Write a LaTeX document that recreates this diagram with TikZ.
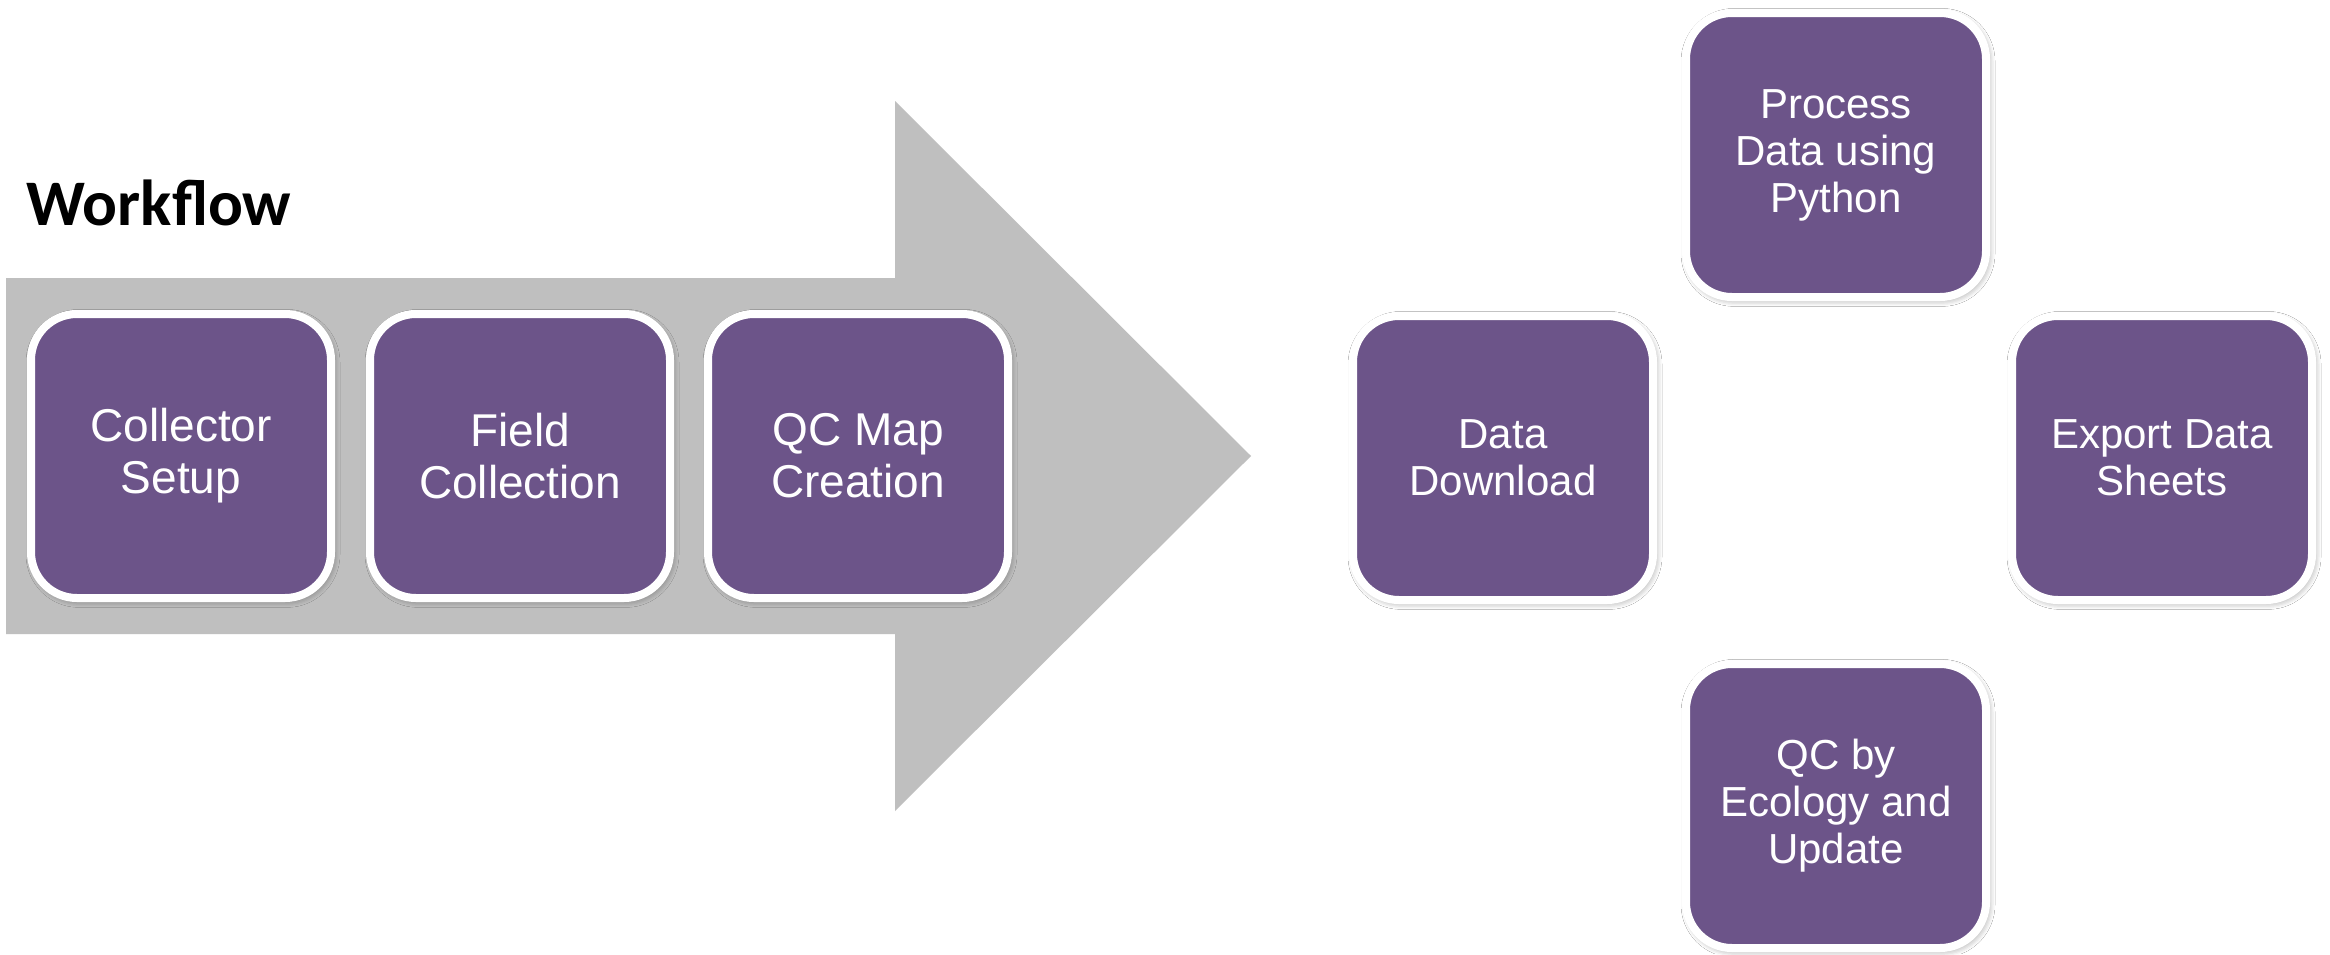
\documentclass[tikz,border=0pt]{standalone}
\usepackage{fontspec}
\setmainfont{Liberation Sans}
\newfontfamily\titlefont{Carlito}
\usetikzlibrary{shadows.blur}
\definecolor{boxpurple}{HTML}{6C5489}
\definecolor{arrowgray}{HTML}{BFBFBF}
\tikzset{
  stepbox/.style={draw=white, line width=4pt, fill=boxpurple, rounded corners=23pt,
    minimum width=150pt, minimum height=142pt, text=white, align=center,
    blur shadow={shadow xshift=1pt, shadow yshift=-1.2pt, shadow blur steps=6,
      shadow blur radius=3.5pt, shadow opacity=45}},
  leftbox/.style={stepbox, font=\fontsize{23}{26}\selectfont},
  rightbox/.style={stepbox, font=\fontsize{21}{23.5}\selectfont},
}
\begin{document}
\begin{tikzpicture}[x=0.5pt, y=-0.5pt]
\useasboundingbox (0,0) rectangle (2330,954);
\fill[white] (0,0) rectangle (2330,954);
% big arrow
\fill[arrowgray] (6,278) -- (895,278) -- (895,101) -- (1251,456) -- (895,811) -- (895,634) -- (6,634) -- cycle;
% title
\node[anchor=base west, inner sep=0pt, font=\titlefont\bfseries\fontsize{32.5}{36}\selectfont] (title) at (26,225) {Workflow};
% left boxes
\node[leftbox] (collector) at (181,456) {Collector\\Setup};
\node[leftbox] (field) at (520,456) {Field\\Collection};
\node[leftbox] (qcmap) at (858,456) {QC Map\\Creation};
% right cluster
\node[rightbox] (process) at (1836,155) {Process\\Data using\\Python};
\node[rightbox] (download) at (1503,458) {Data\\Download};
\node[rightbox] (export) at (2162,458) {Export Data\\Sheets};
\node[rightbox] (qceco) at (1836,806) {QC by\\Ecology and\\Update};
\end{tikzpicture}
\end{document}
